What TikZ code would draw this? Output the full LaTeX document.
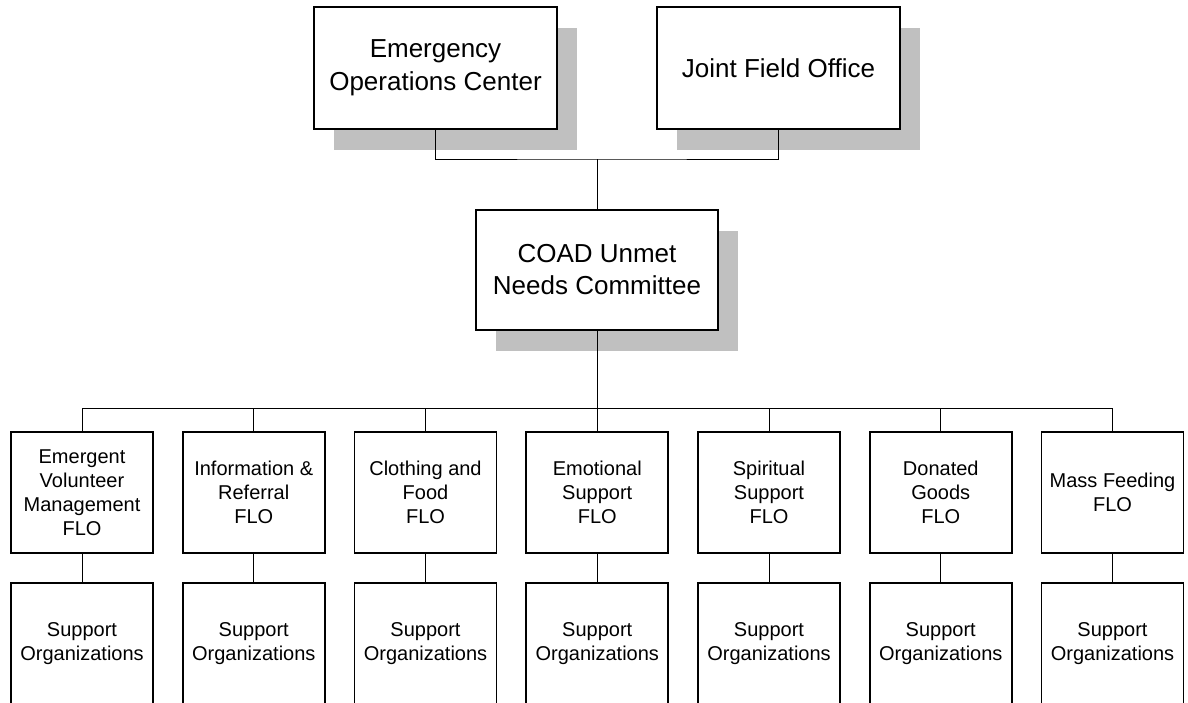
\documentclass[tikz,border=0pt]{standalone}
\usepackage{fontspec}
\setmainfont{Liberation Sans}
\usetikzlibrary{shadows}
\definecolor{shadowgray}{RGB}{192,192,192}

\begin{document}
\begin{tikzpicture}[x=1pt,y=-1pt,line width=1pt,node distance=171.75pt,
  box/.style={draw,line width=1.6pt,fill=white,align=center,inner sep=0pt,minimum width=142pt,minimum height=121pt,font=\fontsize{20}{24}\selectfont},
  bigbox/.style={box,minimum width=243pt,minimum height=122pt,font=\fontsize{26}{33}\selectfont,drop shadow={shadow xshift=20pt,shadow yshift=-21pt,opacity=1,fill=shadowgray}}]
\useasboundingbox (0,0) rectangle (1188,702);

\node[bigbox] (eoc) at (435.5,68) {Emergency\\Operations Center};
\node[bigbox] (jfo) at (778.5,68) {Joint Field Office};
\node[bigbox,minimum width=242pt,minimum height=120pt,font=\fontsize{26}{32}\selectfont] (coad) at (597,270) {COAD Unmet\\Needs Committee};

\node[box] (flo1) at (82,492.5) {Emergent\\Volunteer\\Management\\FLO};
\node[box] (flo2) [right of=flo1] {Information \&\\Referral\\FLO};
\node[box] (flo3) [right of=flo2] {Clothing and\\Food\\FLO};
\node[box] (flo4) [right of=flo3] {Emotional\\Support\\FLO};
\node[box] (flo5) [right of=flo4] {Spiritual\\Support\\FLO};
\node[box] (flo6) [right of=flo5] {Donated\\Goods\\FLO};
\node[box] (flo7) [right of=flo6] {Mass Feeding\\FLO};

\foreach \i in {1,...,7}
  \node[box] (sup\i) [below of=flo\i,node distance=151pt] {Support\\Organizations};

\coordinate (topbus) at (597,159);
\coordinate (midbus) at (597,408);

\draw (eoc.south) |- (topbus) -| (jfo.south);
\draw (topbus) -- (coad.north);
\draw (coad.south) -- (midbus);
\draw (flo1.north |- midbus) -- (flo7.north |- midbus);
\foreach \i in {1,...,7} {
  \draw (flo\i.north |- midbus) -- (flo\i.north);
  \draw (flo\i.south) -- (sup\i.north);
}
\end{tikzpicture}
\end{document}
